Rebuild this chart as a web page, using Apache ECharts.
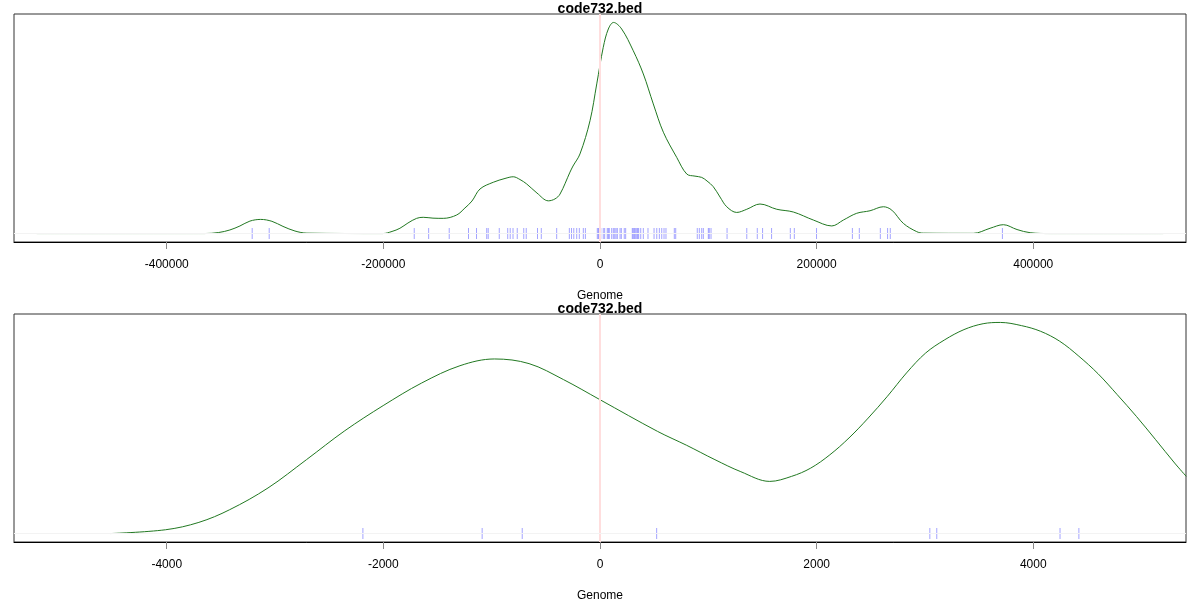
<!DOCTYPE html>
<html>
<head>
<meta charset="utf-8">
<script src="https://cdn.jsdelivr.net/npm/echarts@6/dist/echarts.min.js"></script>
<style>
html,body{margin:0;padding:0;background:#fff;}
#chart{width:1200px;height:600px;}
</style>
</head>
<body>
<div id="chart"></div>
<script>
// ---- Top panel: density (normalised to peak = 1) ----
const topX = [-520000,-365000,-352000,-341700,-332400,-323200,-313300,-302900,-292700,-281600,-270600,-200400,-192000,-184700,-177300,-169300,-163200,-154200,-144700,-132300,-124700,-118200,-110800,-98500,-87700,-80100,-73900,-67700,-58200,-47700,-41600,-36900,-27700,-24900,-18500,-9200,-3000,3000,7700,12500,20000,30700,40000,49200,58500,70800,80100,87700,93900,98800,104600,110800,117000,126200,135500,147700,163200,178500,197000,214000,224700,237000,249300,261600,269400,280100,292400,298500,344700,360100,372400,385000,397100,415500,520000];
const topY = [0,0,0.005,0.017,0.036,0.059,0.067,0.058,0.034,0.012,0.002,0,0.01,0.025,0.05,0.072,0.077,0.073,0.072,0.088,0.121,0.154,0.211,0.243,0.261,0.269,0.256,0.235,0.192,0.155,0.164,0.187,0.291,0.32,0.377,0.535,0.709,0.882,0.969,1.0,0.969,0.866,0.756,0.614,0.48,0.361,0.282,0.272,0.266,0.249,0.222,0.173,0.127,0.1,0.115,0.14,0.115,0.102,0.064,0.036,0.064,0.096,0.108,0.127,0.111,0.048,0.009,0.002,0.001,0.025,0.042,0.019,0.004,0,0];
const topRug = [-321100,-305400,-171500,-158200,-139200,-121400,-114000,-104600,-103200,-93000,-85200,-82900,-80300,-76400,-70400,-68100,-57700,-54200,-40000,-28300,-26300,-24200,-21500,-19100,-15400,-13500,-2500,-1500,-700,200,700,3000,4300,6700,7700,8600,10800,12300,13600,14800,16000,18500,19700,22400,23700,29800,30700,31700,32600,33900,34800,35700,37600,40000,44300,49900,52400,54800,57000,59100,60900,68600,69900,89800,91700,93900,95400,100000,100900,102500,117300,135500,145200,150100,158400,175700,179400,199900,233000,239400,258800,265500,268000,371500];
const topTicks = [-400000,-200000,0,200000,400000];

// ---- Bottom panel ----
const botX = [-4518,-4011,-3703,-3419,-3065,-2710,-2356,-2002,-1647,-1293,-974,-655,-336,0,531,800,1061,1300,1567,1769,1945,2122,2299,2476,2653,2830,3006,3183,3360,3537,3696,3891,4068,4244,4421,4598,4775,4952,5129,5305,5412];
const botY = [0,0.018,0.053,0.113,0.216,0.35,0.487,0.606,0.713,0.795,0.827,0.805,0.729,0.634,0.484,0.418,0.35,0.293,0.247,0.271,0.31,0.373,0.453,0.547,0.65,0.761,0.855,0.918,0.966,0.994,1.0,0.985,0.958,0.911,0.84,0.757,0.658,0.555,0.445,0.334,0.271];
const botRug = [-2189,-1088,-718,523,3045,3109,4247,4421];
const botTicks = [-4000,-2000,0,2000,4000];

const titleText = 'code732.bed';
const axisName = 'Genome';

const FONT = '"Liberation Sans", Arial, sans-serif';
const lineColor = '#217821';
const rugColor = 'rgba(0,0,255,0.45)';

function zip(a, b) { return a.map((v, i) => [v, b[i]]); }

function xAxisCfg(idx, min, max, ticks) {
  return {
    type: 'value', gridIndex: idx, min: min, max: max,
    name: axisName, nameLocation: 'middle', nameGap: 48,
    nameTextStyle: { fontFamily: FONT, fontSize: 12, color: '#000' },
    axisLine: { show: true, onZero: false, lineStyle: { color: '#000', width: 1 } },
    axisTick: { show: true, length: 7, customValues: ticks, lineStyle: { color: '#888', width: 1 } },
    axisLabel: { show: true, margin: 17, customValues: ticks, formatter: v => String(v),
      fontFamily: FONT, fontSize: 12, color: '#000' },
    splitLine: { show: false }
  };
}
function yAxisCfg(idx) {
  return { type: 'value', gridIndex: idx, min: -0.04, max: 1.04, show: false, splitLine: { show: false } };
}
function markLines() {
  return {
    silent: true, symbol: 'none', animation: false,
    label: { show: false },
    data: [
      { xAxis: 0, lineStyle: { color: '#ffdede', width: 2, type: 'solid' } },
      { yAxis: 0, lineStyle: { color: '#f3f3f3', width: 1, type: 'solid' } }
    ]
  };
}

const chart = echarts.init(document.getElementById('chart'), null, { renderer: 'canvas' });
chart.setOption({
  animation: false,
  backgroundColor: '#fff',
  title: [
    { text: titleText, left: 'center', top: -3, textStyle: { fontFamily: FONT, fontSize: 14, fontWeight: 'bold', color: '#000' } },
    { text: titleText, left: 'center', top: 297, textStyle: { fontFamily: FONT, fontSize: 14, fontWeight: 'bold', color: '#000' } }
  ],
  grid: [
    { left: 14, right: 14, top: 14, height: 228, show: true, borderColor: '#333', borderWidth: 1,
      backgroundColor: 'transparent', containLabel: false, outerBoundsMode: 'none' },
    { left: 14, right: 14, top: 314, height: 228, show: true, borderColor: '#333', borderWidth: 1,
      backgroundColor: 'transparent', containLabel: false, outerBoundsMode: 'none' }
  ],
  xAxis: [ xAxisCfg(0, -541000, 541000, topTicks), xAxisCfg(1, -5410, 5410, botTicks) ],
  yAxis: [ yAxisCfg(0), yAxisCfg(1) ],
  series: [
    { type: 'line', xAxisIndex: 0, yAxisIndex: 0, data: zip(topX, topY), smooth: 0.35, showSymbol: false,
      lineStyle: { color: lineColor, width: 1 }, z: 3, markLine: markLines() },
    { type: 'scatter', xAxisIndex: 0, yAxisIndex: 0, data: topRug.map(v => [v, 0]), symbol: 'rect', symbolSize: [1, 11],
      itemStyle: { color: rugColor }, z: 2, silent: true },
    { type: 'line', xAxisIndex: 1, yAxisIndex: 1, data: zip(botX, botY), smooth: 0.35, showSymbol: false,
      lineStyle: { color: lineColor, width: 1 }, z: 3, markLine: markLines() },
    { type: 'scatter', xAxisIndex: 1, yAxisIndex: 1, data: botRug.map(v => [v, 0]), symbol: 'rect', symbolSize: [1, 11],
      itemStyle: { color: rugColor }, z: 2, silent: true }
  ]
});
</script>
</body>
</html>
